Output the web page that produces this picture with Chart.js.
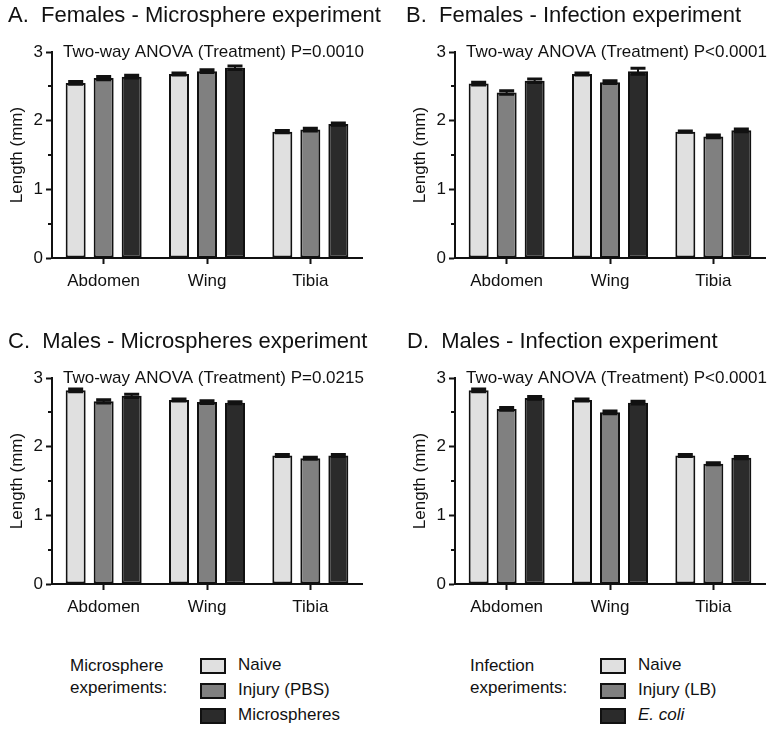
<!DOCTYPE html>
<html>
<head>
<meta charset="utf-8">
<script src="https://cdn.jsdelivr.net/npm/chart.js@4/dist/chart.umd.min.js"></script>
<style>
  body { margin: 0; background: #fff; font-family: "Liberation Sans", Arial, sans-serif; color: #111; }
  #wrap { position: relative; width: 782px; height: 732px; }
  canvas { position: absolute; }
  .leg { position: absolute; font-size: 17px; }
  .legHead { position: absolute; line-height: 22px; }
  .legRow { position: absolute; height: 25px; white-space: nowrap; }
  .sw { position: absolute; width: 22px; height: 12px; border: 2px solid #111; top: 0; }
  .lab { position: absolute; left: 38px; top: -3px; line-height: 19px; }
</style>
</head>
<body>
<div id="wrap">
  <canvas id="cA" width="391" height="300" style="left:0;top:0"></canvas>
  <canvas id="cB" width="391" height="300" style="left:391px;top:0"></canvas>
  <canvas id="cC" width="391" height="300" style="left:0;top:326px"></canvas>
  <canvas id="cD" width="391" height="300" style="left:391px;top:326px"></canvas>
  <div class="leg" id="legL" style="left:70px;top:655px"></div>
  <div class="leg" id="legR" style="left:470px;top:655px"></div>
</div>
<script>
// categories and groups
var categories = ['Abdomen', 'Wing', 'Tibia'];
var colors = ['#e0e0e0', '#808080', '#2b2b2b'];
var microLabels = ['Naive', 'Injury (PBS)', 'Microspheres'];
var infectLabels = ['Naive', 'Injury (LB)', 'E. coli'];

// A. Females - microsphere experiment
var femMicroNaive = [2.55, 2.68, 1.84];
var femMicroInjury = [2.62, 2.72, 1.87];
var femMicroSpheres = [2.64, 2.77, 1.95];
var femMicroNaiveErr = [0.02, 0.015, 0.015];
var femMicroInjuryErr = [0.025, 0.02, 0.02];
var femMicroSpheresErr = [0.02, 0.025, 0.015];

// B. Females - infection experiment
var femInfNaive = [2.54, 2.68, 1.84];
var femInfInjury = [2.41, 2.56, 1.77];
var femInfEcoli = [2.58, 2.72, 1.86];
var femInfNaiveErr = [0.02, 0.015, 0.01];
var femInfInjuryErr = [0.025, 0.02, 0.02];
var femInfEcoliErr = [0.025, 0.045, 0.02];

// C. Males - microspheres experiment
var maleMicroNaive = [2.82, 2.68, 1.87];
var maleMicroInjury = [2.66, 2.65, 1.83];
var maleMicroSpheres = [2.74, 2.64, 1.87];
var maleMicroNaiveErr = [0.02, 0.015, 0.015];
var maleMicroInjuryErr = [0.025, 0.02, 0.015];
var maleMicroSpheresErr = [0.025, 0.015, 0.015];

// D. Males - infection experiment
var maleInfNaive = [2.82, 2.68, 1.87];
var maleInfInjury = [2.55, 2.50, 1.75];
var maleInfEcoli = [2.71, 2.64, 1.84];
var maleInfNaiveErr = [0.02, 0.015, 0.015];
var maleInfInjuryErr = [0.02, 0.02, 0.015];
var maleInfEcoliErr = [0.02, 0.02, 0.015];

var FONT = '"Liberation Sans", Arial, sans-serif';

// error bars, minor ticks, panel title and ANOVA note
var extras = {
  id: 'extras',
  afterDatasetsDraw: function(chart) {
    var ctx = chart.ctx;
    var ys = chart.scales.y;
    var area = chart.chartArea;
    ctx.save();
    ctx.strokeStyle = '#111';
    chart.data.datasets.forEach(function(ds, i) {
      var meta = chart.getDatasetMeta(i);
      meta.data.forEach(function(bar, j) {
        var v = ds.data[j], e = ds.err[j];
        var top = ys.getPixelForValue(v + e);
        var bot = ys.getPixelForValue(v - e);
        ctx.lineWidth = 2;
        ctx.beginPath();
        ctx.moveTo(bar.x, bot);
        ctx.lineTo(bar.x, top);
        ctx.stroke();
        ctx.lineWidth = 3;
        ctx.beginPath();
        ctx.moveTo(bar.x - 7.5, top);
        ctx.lineTo(bar.x + 7.5, top);
        ctx.moveTo(bar.x - 7.5, bot);
        ctx.lineTo(bar.x + 7.5, bot);
        ctx.stroke();
      });
    });
    // minor ticks
    ctx.lineWidth = 2;
    [0.5, 1.5, 2.5].forEach(function(m) {
      var py = Math.round(ys.getPixelForValue(m));
      ctx.beginPath();
      ctx.moveTo(area.left - 4, py);
      ctx.lineTo(area.left, py);
      ctx.stroke();
    });
    ctx.fillStyle = '#111';
    ctx.textBaseline = 'middle';
    ctx.textAlign = 'left';
    ctx.font = '17px ' + FONT;
    ctx.fillText(chart.options.note, area.left + 11, ys.getPixelForValue(3));
    ctx.font = '22px ' + FONT;
    ctx.fillText(chart.options.panelTitle, chart.options.titleX, 16);
    ctx.restore();
  }
};

function makeChart(id, title, titleX, note, series, errs, labels, padLeft, padRight) {
  var datasets = series.map(function(s, i) {
    return {
      label: labels[i],
      data: s,
      err: errs[i],
      backgroundColor: colors[i],
      borderColor: '#111',
      borderWidth: 2,
      borderSkipped: false,
      categoryPercentage: 0.813,
      barPercentage: 0.714
    };
  });
  return new Chart(document.getElementById(id), {
    type: 'bar',
    data: { labels: categories, datasets: datasets },
    options: {
      responsive: false,
      animation: false,
      devicePixelRatio: 1,
      panelTitle: title,
      titleX: titleX,
      note: note,
      layout: { padding: { left: padLeft, right: padRight, top: 52, bottom: 0 } },
      plugins: { legend: { display: false }, tooltip: { enabled: false } },
      scales: {
        x: {
          offset: true,
          grid: { display: true, drawOnChartArea: false, offset: false, tickLength: 6, tickWidth: 2, tickColor: '#111' },
          border: { display: true, color: '#111', width: 2 },
          ticks: { color: '#111', font: { family: FONT, size: 17 }, padding: 7, maxRotation: 0 },
          afterFit: function(s) { s.height = 42; }
        },
        y: {
          min: 0,
          max: 3,
          grid: { display: true, drawOnChartArea: false, tickLength: 6, tickWidth: 2, tickColor: '#111' },
          border: { display: true, color: '#111', width: 2 },
          ticks: { stepSize: 1, color: '#111', font: { family: FONT, size: 17 }, padding: 3 },
          title: { display: true, text: 'Length (mm)', color: '#111', font: { family: FONT, size: 17 }, padding: { top: 7, bottom: 0 } },
          afterFit: function(s) { s.width = 52; }
        }
      }
    },
    plugins: [extras]
  });
}

makeChart('cA', 'A.  Females - Microsphere experiment', 8, 'Two-way ANOVA (Treatment) P=0.0010',
  [femMicroNaive, femMicroInjury, femMicroSpheres],
  [femMicroNaiveErr, femMicroInjuryErr, femMicroSpheresErr], microLabels, 0, 29);
makeChart('cB', 'B.  Females - Infection experiment', 15, 'Two-way ANOVA (Treatment) P<0.0001',
  [femInfNaive, femInfInjury, femInfEcoli],
  [femInfNaiveErr, femInfInjuryErr, femInfEcoliErr], infectLabels, 12, 17);
makeChart('cC', 'C.  Males - Microspheres experiment', 8, 'Two-way ANOVA (Treatment) P=0.0215',
  [maleMicroNaive, maleMicroInjury, maleMicroSpheres],
  [maleMicroNaiveErr, maleMicroInjuryErr, maleMicroSpheresErr], microLabels, 0, 29);
makeChart('cD', 'D.  Males - Infection experiment', 16, 'Two-way ANOVA (Treatment) P<0.0001',
  [maleInfNaive, maleInfInjury, maleInfEcoli],
  [maleInfNaiveErr, maleInfInjuryErr, maleInfEcoliErr], infectLabels, 12, 17);

// legends
function buildLegend(elId, heading, labels, italicIdx) {
  var el = document.getElementById(elId);
  var h = document.createElement('div');
  h.className = 'legHead';
  h.style.left = '0px';
  h.style.top = '0px';
  h.innerHTML = heading;
  el.appendChild(h);
  labels.forEach(function(l, i) {
    var row = document.createElement('div');
    row.className = 'legRow';
    row.style.left = '130px';
    row.style.top = (3 + i * 25) + 'px';
    var sw = document.createElement('div');
    sw.className = 'sw';
    sw.style.background = colors[i];
    var lab = document.createElement('div');
    lab.className = 'lab';
    lab.textContent = l;
    if (i === italicIdx) lab.style.fontStyle = 'italic';
    row.appendChild(sw);
    row.appendChild(lab);
    el.appendChild(row);
  });
}
buildLegend('legL', 'Microsphere<br>experiments:', microLabels, -1);
buildLegend('legR', 'Infection<br>experiments:', infectLabels, 2);
</script>
</body>
</html>
